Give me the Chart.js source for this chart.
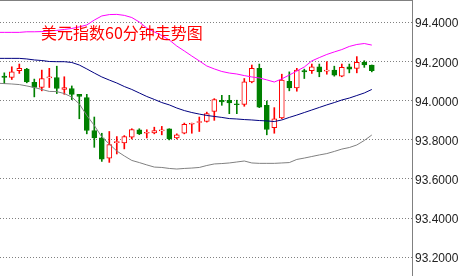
<!DOCTYPE html>
<html>
<head>
<meta charset="utf-8">
<script src="https://cdn.jsdelivr.net/npm/chart.js@4.4.1/dist/chart.umd.min.js"></script>
<style>
  html, body { margin: 0; padding: 0; background: #fff; }
  #wrap { position: relative; width: 462px; height: 276px; }
  #title {
    position: absolute; left: 41px; top: 24px;
    color: #ff0000; font-size: 16px; line-height: 16px;
    font-family: "Noto Sans CJK SC", sans-serif; white-space: nowrap;
  }
</style>
</head>
<body>
<div id="wrap">
  <canvas id="chart" width="462" height="276"></canvas>
  <div id="title">美元指数60分钟走势图</div>
</div>
<script>
// hourly candles, oldest first
const opens = [94.126, 94.119, 94.154, 94.162, 94.094, 94.068, 94.117, 94.119, 94.058, 94.063,
  94.033, 94.016, 93.848, 93.810, 93.706, 93.786, 93.785, 93.814, 93.852, 93.834,
  93.836, 93.846, 93.857, 93.810, 93.834, 93.880, 93.889, 93.894, 93.946, 94.003,
  94.003, 93.985, 93.982, 94.097, 94.166, 93.977, 93.862, 93.912, 94.100, 94.066,
  94.154, 94.154, 94.174, 94.152, 94.157, 94.126, 94.174, 94.166, 94.197, 94.183];
const highs = [94.143, 94.174, 94.188, 94.166, 94.111, 94.157, 94.166, 94.177, 94.123, 94.076,
  94.033, 94.033, 93.917, 93.834, 93.843, 93.817, 93.822, 93.857, 93.857, 93.852,
  93.865, 93.869, 93.857, 93.831, 93.886, 93.886, 93.917, 93.942, 94.011, 94.028,
  94.028, 94.003, 94.114, 94.183, 94.188, 93.999, 93.965, 94.136, 94.148, 94.166,
  94.162, 94.188, 94.188, 94.200, 94.177, 94.188, 94.188, 94.226, 94.205, 94.183];
const lows = [94.088, 94.109, 94.140, 94.092, 94.020, 94.051, 94.068, 94.037, 94.033, 94.006,
  93.908, 93.831, 93.762, 93.690, 93.685, 93.728, 93.754, 93.805, 93.827, 93.810,
  93.831, 93.826, 93.800, 93.805, 93.831, 93.834, 93.843, 93.891, 93.900, 93.977,
  93.934, 93.934, 93.972, 94.092, 93.965, 93.826, 93.834, 93.908, 94.051, 94.049,
  94.114, 94.140, 94.123, 94.136, 94.126, 94.123, 94.143, 94.143, 94.171, 94.148];
const closes = [94.119, 94.148, 94.166, 94.097, 94.068, 94.114, 94.120, 94.063, 94.068, 94.033,
  94.023, 93.848, 93.810, 93.702, 93.776, 93.790, 93.817, 93.853, 93.831, 93.838,
  93.848, 93.849, 93.805, 93.826, 93.879, 93.882, 93.891, 93.934, 94.006, 93.994,
  93.989, 93.980, 94.097, 94.166, 93.968, 93.853, 93.908, 94.106, 94.066, 94.157,
  94.148, 94.174, 94.148, 94.154, 94.131, 94.171, 94.162, 94.197, 94.183, 94.154];

// bollinger bands, one bar earlier than the first candle
const bandStart = -1;
const upperBand = [94.350, 94.350, 94.350, 94.350, 94.353, 94.353, 94.354, 94.357, 94.360, 94.365,
  94.370, 94.378, 94.388, 94.413, 94.434, 94.441, 94.442, 94.437, 94.426, 94.403,
  94.372, 94.352, 94.334, 94.311, 94.280, 94.255, 94.229, 94.204, 94.178, 94.163,
  94.150, 94.142, 94.137, 94.129, 94.122, 94.117, 94.107, 94.096, 94.112, 94.132,
  94.152, 94.173, 94.204, 94.221, 94.237, 94.250, 94.262, 94.278, 94.288, 94.293, 94.285];
const midBand = [94.217, 94.217, 94.217, 94.217, 94.214, 94.209, 94.206, 94.201, 94.200, 94.200,
  94.196, 94.183, 94.163, 94.142, 94.122, 94.106, 94.091, 94.073, 94.058, 94.040,
  94.022, 94.007, 93.991, 93.979, 93.963, 93.950, 93.940, 93.932, 93.925, 93.920,
  93.915, 93.909, 93.907, 93.904, 93.902, 93.899, 93.897, 93.894, 93.902, 93.915,
  93.927, 93.940, 93.953, 93.966, 93.979, 93.991, 94.004, 94.014, 94.027, 94.040, 94.058];
const lowerBand = [94.090, 94.088, 94.086, 94.083, 94.076, 94.068, 94.058, 94.048, 94.047, 94.037,
  94.019, 93.984, 93.925, 93.874, 93.815, 93.779, 93.743, 93.718, 93.695, 93.684,
  93.672, 93.661, 93.659, 93.654, 93.651, 93.654, 93.656, 93.659, 93.669, 93.677,
  93.679, 93.682, 93.687, 93.692, 93.682, 93.680, 93.680, 93.680, 93.682, 93.684,
  93.700, 93.707, 93.715, 93.723, 93.730, 93.741, 93.753, 93.761, 93.774, 93.797, 93.825];

const yTicks = [93.2, 93.4, 93.6, 93.8, 94.0, 94.2, 94.4];

const RED = '#ff0000';
const GREEN = '#008000';

function isUp(i) {
    return closes[i] >= opens[i];
}

const bodyData = opens.map((o, i) => ({ x: i, y: [o, closes[i]] }));
const wickData = lows.map((l, i) => ({ x: i, y: [l, highs[i]] }));
const bandPoints = arr => arr.map((v, i) => ({ x: i + bandStart, y: v }));

function bandLine(arr, color) {
    return {
        type: 'line',
        data: bandPoints(arr),
        borderColor: color,
        borderWidth: 1,
        pointRadius: 0,
        tension: 0,
        order: 0
    };
}

// top edge of the plot frame
const frame = {
    id: 'frame',
    afterDraw(chart) {
        const ctx = chart.ctx;
        const area = chart.chartArea;
        ctx.save();
        ctx.strokeStyle = '#808080';
        ctx.lineWidth = 1;
        ctx.beginPath();
        ctx.moveTo(0, 0.5);
        ctx.lineTo(area.right, 0.5);
        ctx.stroke();
        ctx.restore();
    }
};

new Chart(document.getElementById('chart'), {
    type: 'bar',
    data: {
        datasets: [
            bandLine(upperBand, '#ff00ff'),
            bandLine(midBand, '#000080'),
            bandLine(lowerBand, '#808080'),
            {
                type: 'bar',
                data: bodyData,
                backgroundColor: c => isUp(c.dataIndex) ? '#ffffff' : GREEN,
                borderColor: c => isUp(c.dataIndex) ? RED : GREEN,
                borderWidth: 1,
                borderSkipped: false,
                barThickness: 5,
                minBarLength: 1,
                grouped: false,
                order: 1
            },
            {
                type: 'bar',
                data: wickData,
                backgroundColor: c => isUp(c.dataIndex) ? RED : GREEN,
                borderWidth: 0,
                barThickness: 1,
                grouped: false,
                order: 2
            }
        ]
    },
    options: {
        responsive: false,
        animation: false,
        layout: { padding: 0 },
        plugins: {
            legend: { display: false },
            tooltip: { enabled: false }
        },
        scales: {
            x: {
                type: 'linear',
                display: false,
                offset: false,
                min: -0.573,
                max: 54.36
            },
            y: {
                position: 'right',
                min: 93.1038,
                max: 94.5156,
                afterFit: s => {
                    s.width = 50;
                    s.paddingTop = 0;
                    s.paddingBottom = 0;
                },
                afterBuildTicks: s => { s.ticks = yTicks.map(v => ({ value: v })); },
                ticks: {
                    callback: v => v.toFixed(4),
                    padding: 3,
                    labelOffset: 1.5,
                    color: '#222',
                    font: { family: 'Liberation Sans', size: 12 }
                },
                grid: { color: '#808080', drawTicks: false, lineWidth: 1 },
                border: { display: true, color: '#808080', dash: [1, 2] }
            }
        }
    },
    plugins: [frame]
});
</script>
</body>
</html>
